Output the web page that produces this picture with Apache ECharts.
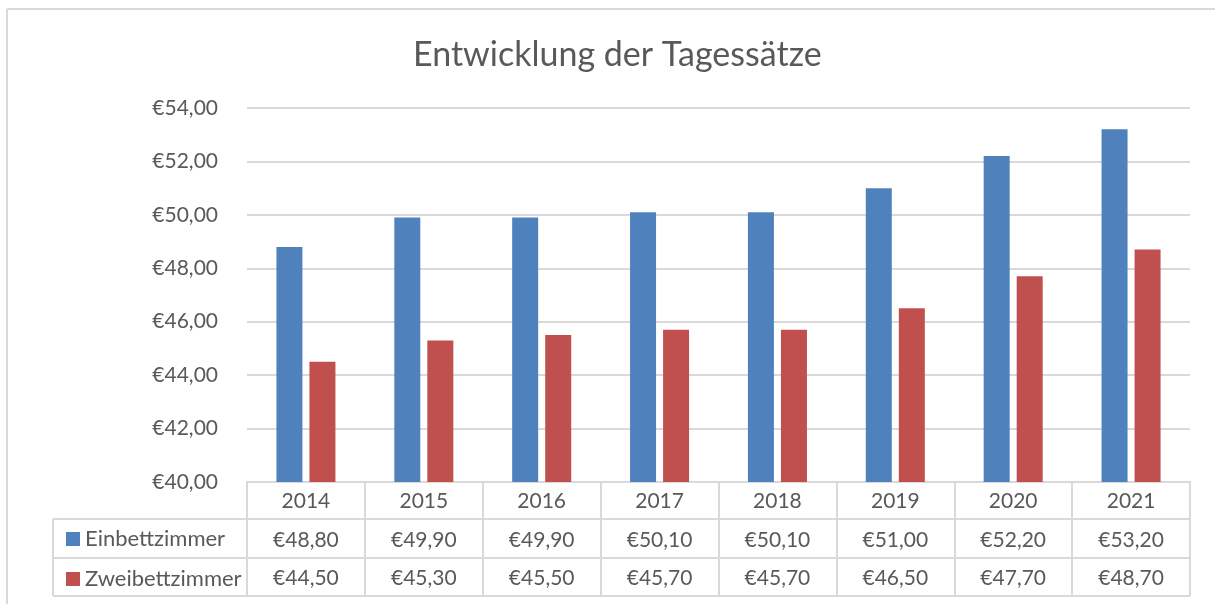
<!DOCTYPE html>
<html>
<head>
<meta charset="utf-8">
<script src="https://cdn.jsdelivr.net/npm/echarts@6/dist/echarts.min.js"></script>
<style>
  html, body { margin: 0; padding: 0; background: #fff; }
  #main { width: 1215px; height: 604px; }
</style>
</head>
<body>
<div id="main"></div>
<script>
// Daten
var jahre = ['2014', '2015', '2016', '2017', '2018', '2019', '2020', '2021'];
var einbett = [48.8, 49.9, 49.9, 50.1, 50.1, 51.0, 52.2, 53.2];
var zweibett = [44.5, 45.3, 45.5, 45.7, 45.7, 46.5, 47.7, 48.7];
var serienNamen = ['Einbettzimmer', 'Zweibettzimmer'];

function euro(v) {
    return '€' + v.toFixed(2).replace('.', ',');
}

var dom = document.getElementById('main');
var chart = echarts.init(dom);

var grau = '#595959';
var linie = '#d9d9d9';
var schrift = 'Lato, "Open Sans", sans-serif';

var gridLeft = 247, gridRight = 1190, gridTop = 108, gridBottom = 482;
var tabLeft = 53;
var rows = [519, 558, 596];

option = {
    title: {
        text: 'Entwicklung der Tagessätze',
        left: 408,
        top: 33,
        textStyle: {
            fontFamily: schrift,
            fontSize: 34,
            fontWeight: 'normal',
            color: grau
        }
    },
    legend: {
        orient: 'vertical',
        left: 61,
        top: 523,
        itemWidth: 14,
        itemHeight: 14,
        itemGap: 18,
        icon: 'rect',
        selectedMode: false,
        data: serienNamen,
        textStyle: {
            fontFamily: schrift,
            fontSize: 22,
            color: grau
        }
    },
    grid: {
        left: gridLeft,
        right: 1215 - gridRight,
        top: gridTop,
        bottom: 604 - gridBottom
    },
    xAxis: {
        type: 'category',
        data: jahre,
        boundaryGap: true,
        axisLine: { lineStyle: { color: linie, width: 2 } },
        axisTick: {
            show: true,
            length: rows[2] - gridBottom,
            lineStyle: { color: linie, width: 2 }
        },
        axisLabel: {
            margin: 0,
            interval: 0,
            verticalAlign: 'top',
            formatter: function (value, idx) {
                return '{t|' + value + '}\n{t|' + euro(einbett[idx]) + '}\n{t|' + euro(zweibett[idx]) + '}';
            },
            rich: {
                t: {
                    fontFamily: schrift,
                    fontSize: 21,
                    color: grau,
                    lineHeight: 38.5,
                    height: 38.5,
                    verticalAlign: 'middle'
                }
            }
        }
    },
    yAxis: {
        type: 'value',
        min: 40,
        max: 54,
        interval: 2,
        axisLine: { show: false },
        axisTick: { show: false },
        axisLabel: {
            margin: 29,
            fontFamily: schrift,
            fontSize: 21,
            color: grau,
            formatter: function (v) { return euro(v); }
        },
        splitLine: { lineStyle: { color: linie, width: 2 } }
    },
    series: [
        {
            name: serienNamen[0],
            type: 'bar',
            data: einbett,
            barWidth: 26,
            barGap: '27%',
            itemStyle: { color: '#4f81bd' }
        },
        {
            name: serienNamen[1],
            type: 'bar',
            data: zweibett,
            barWidth: 26,
            itemStyle: { color: '#c0504d' }
        }
    ],
    graphic: [
        // Rahmen
        { type: 'line', shape: { x1: 7, y1: 9, x2: 1215, y2: 9 }, style: { stroke: linie, lineWidth: 2 } },
        { type: 'line', shape: { x1: 7, y1: 9, x2: 7, y2: 604 }, style: { stroke: linie, lineWidth: 2 } },
        // Datentabelle
        { type: 'line', shape: { x1: tabLeft, y1: rows[0], x2: gridRight, y2: rows[0] }, style: { stroke: linie, lineWidth: 2 } },
        { type: 'line', shape: { x1: tabLeft, y1: rows[1], x2: gridRight, y2: rows[1] }, style: { stroke: linie, lineWidth: 2 } },
        { type: 'line', shape: { x1: tabLeft, y1: rows[2], x2: gridRight, y2: rows[2] }, style: { stroke: linie, lineWidth: 2 } },
        { type: 'line', shape: { x1: tabLeft, y1: rows[0], x2: tabLeft, y2: rows[2] }, style: { stroke: linie, lineWidth: 2 } }
    ]
};

chart.setOption(option, true);
</script>
</body>
</html>
